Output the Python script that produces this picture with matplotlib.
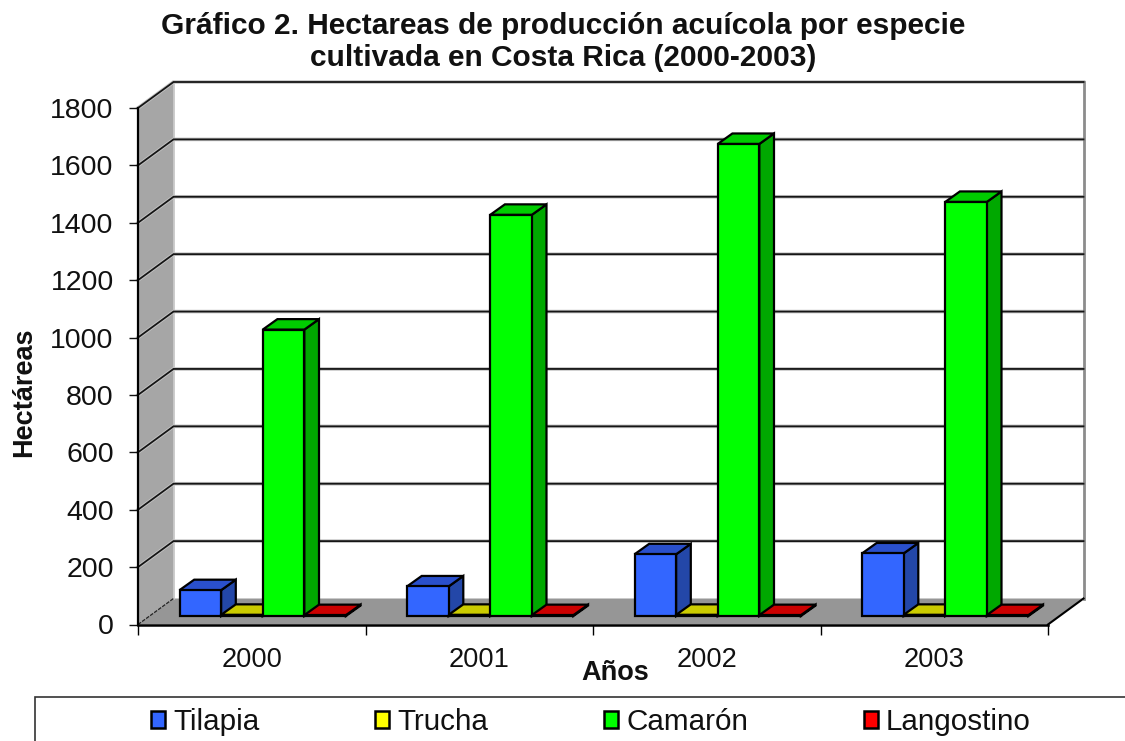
import numpy as np
import matplotlib
matplotlib.use('Agg')
import matplotlib.pyplot as plt
from matplotlib.patches import Polygon, Rectangle, Patch

# -------- Data --------
years = ['2000', '2001', '2002', '2003']
especies = ['Tilapia', 'Trucha', 'Camarón', 'Langostino']
tilapia = [90, 103, 215, 218]
trucha = [4, 4, 4, 4]
camaron = [998, 1398, 1645, 1443]
langostino = [3, 3, 3, 3]
series = [tilapia, trucha, camaron, langostino]
y_ticks = list(range(0, 1801, 200))

# front, top, side
colors = [('#3366ff', '#2a50cc', '#2347a8'),
          ('#ffff00', '#cccc00', '#a8a800'),
          ('#00ff00', '#00cc00', '#00a800'),
          ('#ff0000', '#cc0000', '#a80000')]

# -------- Figure --------
W, H = 1125, 741
plt.rcParams['font.family'] = ['Liberation Sans', 'DejaVu Sans']
fig = plt.figure(figsize=(W / 100, H / 100), dpi=100)
x0, x1, ytop, ybot = 138, 1048, 108, 624.5
ax = fig.add_axes([x0 / W, 1 - ybot / H, (x1 - x0) / W, (ybot - ytop) / H])
ax.set_xlim(0, len(years))
ax.set_ylim(0, 1800)
ax.patch.set_visible(False)

# pixel sizes to data units
px_x = len(years) / (x1 - x0)
px_y = 1800 / (ybot - ytop)
wall_dx, wall_dy = 35.5 * px_x, 26 * px_y
bar_dx, bar_dy = 14.7 * px_x, 10.5 * px_y
shift_dx, shift_dy = 11.5 * px_x, 8.5 * px_y
bar_w = 41.6 * px_x
margin = 30 * px_x


def poly(pts, fc, ec='black', lw=1.6, z=2):
    ax.add_patch(Polygon(pts, closed=True, fc=fc, ec=ec, lw=lw, zorder=z,
                         clip_on=False, joinstyle='miter'))


# Walls and floor
xmax = len(years)
poly([(0, 0), (wall_dx, wall_dy), (wall_dx, 1800 + wall_dy), (0, 1800)], '#a6a6a6', 'none', 0, 1)
poly([(0, 0), (xmax, 0), (xmax + wall_dx, wall_dy), (wall_dx, wall_dy)], '#969696', 'none', 0, 1)

# Grid
for v in y_ticks[1:]:
    ax.plot([0, wall_dx, xmax + wall_dx], [v, v + wall_dy, v + wall_dy],
            color='#c4c4c4', lw=2.6, zorder=1.2, clip_on=False, solid_joinstyle='miter')
    ax.plot([0, wall_dx, xmax + wall_dx], [v, v + wall_dy, v + wall_dy],
            color='#151515', lw=1.3, zorder=1.3, clip_on=False, solid_joinstyle='miter')
ax.plot([xmax + wall_dx] * 2, [wall_dy, 1800 + wall_dy], color='#8c8c8c', lw=2, zorder=1.2, clip_on=False)
ax.plot([wall_dx] * 2, [wall_dy, 1800 + wall_dy], color='#c4c4c4', lw=1.2, zorder=1.2, clip_on=False)
ax.plot([0, wall_dx], [0, wall_dy], color='#222222', lw=0.9, ls=(0, (3, 1)), zorder=1.4, clip_on=False)
ax.plot([xmax, xmax + wall_dx], [0, wall_dy], color='black', lw=1.5, zorder=1.4, clip_on=False)

# Bars, left to right
for g in range(len(years)):
    for s, vals in enumerate(series):
        v = vals[g]
        left = g + margin + shift_dx + s * bar_w
        right = left + bar_w
        base = shift_dy
        top = base + v
        front, top_c, side = colors[s]
        poly([(right, base), (right + bar_dx, base + bar_dy),
              (right + bar_dx, top + bar_dy), (right, top)], side, z=3)
        poly([(left, top), (right, top), (right + bar_dx, top + bar_dy),
              (left + bar_dx, top + bar_dy)], top_c, z=3)
        poly([(left, base), (right, base), (right, top), (left, top)], front, z=3)

# -------- Axes --------
for name in ['top', 'right']:
    ax.spines[name].set_visible(False)
ax.spines['left'].set_linewidth(1.6)
ax.spines['bottom'].set_linewidth(1.8)
ax.set_yticks(y_ticks)
ax.set_xticks(range(len(years) + 1))
ax.set_xticklabels([])
ax.set_xticks(np.arange(len(years)) + 0.5, minor=True)
ax.set_xticklabels(years, minor=True)
ax.tick_params(axis='y', length=6.5, width=1, labelsize=20.5, pad=11, colors='#111111')
ax.tick_params(axis='x', which='major', length=7, width=1)
ax.tick_params(axis='x', which='minor', length=0, labelsize=19.6, pad=16, labelcolor='#111111')

fig.text(24 / W, 1 - 392 / H, 'Hectáreas', rotation=90, fontsize=19.5, fontweight='bold',
         ha='center', va='center', color='#111111')
fig.text(615 / W, 1 - 673 / H, 'Años', fontsize=19.5, fontweight='bold',
         ha='center', va='center', color='#111111')
fig.text(563 / W, 1 - 42 / H, 'Gráfico 2. Hectareas de producción acuícola por especie\ncultivada en Costa Rica (2000-2003)',
         fontsize=21.5, fontweight='bold', ha='center', va='center', linespacing=1.2, color='#111111')

# -------- Legend --------
fig.add_artist(Rectangle((35 / W, -20 / H), 1200 / W, (20 + 741 - 697) / H, transform=fig.transFigure,
                         fc='white', ec='#333333', lw=1.2))
handles = [Patch(fc=c[0], ec='black', lw=1.8) for c in colors]
fig.legend(handles, especies, loc='center', bbox_to_anchor=(591 / W, 1 - 722 / H), ncol=4,
           frameon=False, fontsize=21.3, handlelength=0.48, handleheight=0.5,
           handletextpad=0.28, columnspacing=3.9, labelcolor='#111111')

fig.savefig('out.png', dpi=100)
